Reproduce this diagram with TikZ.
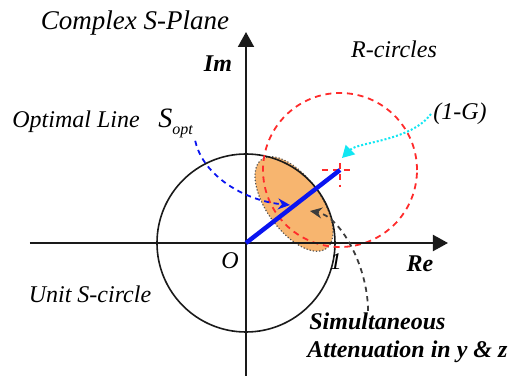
\documentclass[tikz,border=0pt]{standalone}
\usepackage{fontspec}
\setmainfont{LiberationSerif}[Extension=.ttf,UprightFont=*-Regular,ItalicFont=*-Italic,
  BoldFont=*-Bold,BoldItalicFont=*-BoldItalic]
\usepackage{tikz}
\usetikzlibrary{arrows.meta,positioning,calc}
\definecolor{RCirc}{HTML}{FF2B2B}
\definecolor{SBlue}{HTML}{0A14F0}
\definecolor{GCyan}{HTML}{12E6F2}
\definecolor{Lens}{HTML}{F7B56F}
\definecolor{LensEdge}{HTML}{555555}
\definecolor{Ink}{HTML}{1A1A1A}

\begin{document}
\begin{tikzpicture}[x=0.5pt,y=0.5pt,>=Latex]
    \tikzset{
      lbl/.style={font=\fontsize{12}{14}\selectfont\itshape,inner sep=1pt},
      blbl/.style={font=\fontsize{12}{14}\selectfont\bfseries\itshape,inner sep=1pt},
      axis/.style={line width=1pt,draw=Ink,-{Triangle[length=7.5pt,width=8pt]}},
      rdash/.style={draw=RCirc,line width=0.9pt,dash pattern=on 3pt off 2.4pt},
      pointer/.style={line width=0.9pt,dash pattern=on 2.6pt off 2.2pt}
    }
    \useasboundingbox (0,0) rectangle (511,376);
    \coordinate (O) at (246,133);
    \coordinate (G) at (340,206);
    \coordinate (lens) at (294,172);
    \coordinate (reL) at (30,133);
    \coordinate (reR) at (448,133);
    \coordinate (imB) at (246,0);
    \coordinate (imT) at (246,344);
    \coordinate (sHit) at (290,171);
    \coordinate (aHit) at (310,165);
    \coordinate (gHit) at (342,218);

    % lens of simultaneous attenuation
    \fill[Lens,rotate around={126:(lens)}] (lens) ellipse [x radius=55,y radius=27];
    \draw[LensEdge,densely dotted,line width=0.6pt,rotate around={126:(lens)}]
         (lens) ellipse [x radius=55,y radius=27];

    \draw[Ink,line width=0.8pt] (O) circle [radius=89];
    \draw[rdash] (G) circle [radius=77];
    \draw[rdash] ($(G)+(-18,0)$) -- ($(G)+(13,0)$);
    \draw[rdash] ($(G)+(0,7)$) -- ($(G)+(0,-17)$);

    \draw[axis] (reL) -- (reR);
    \draw[axis] (imB) -- (imT);
    \draw[SBlue,line width=2.2pt] (O) -- (G);

    \node[lbl,font=\fontsize{13.5}{16}\selectfont\itshape,anchor=base] (title) at (135,346) {Complex S-Plane};
    \node[blbl,anchor=base] (im) at (218,304) {Im};
    \node[blbl,anchor=base] (re) at (420,104) {Re};
    \node[lbl,anchor=base] (rc) at (394,318) {R-circles};
    \node[lbl,anchor=base] (opt) at (76,249) {Optimal Line};
    \node[lbl,anchor=base west,font=\fontsize{14}{16}\selectfont\itshape] (sopt) at (156,249)
         {S\raisebox{-4pt}{\fontsize{8}{9}\selectfont\itshape opt}};
    \node[lbl] (oneG) at (460,262) {(1-G)};
    \node[lbl] (orig) at (230,115) {O};
    \node[lbl] (one) at (336,114) {1};
    \node[lbl,anchor=base] (unit) at (90,73) {Unit S-circle};
    \node[blbl,anchor=base west] (simA) at (307,46) {Simultaneous};
    \node[blbl,anchor=base west] (simB) at (305,18) {Attenuation in y \& z};

    \draw[pointer,SBlue,-{Stealth[length=6pt,width=5.5pt]}]
         (sopt.south east) .. controls (203,200) and (245,175) .. (sHit);
    \draw[pointer,Ink!85,-{Stealth[length=6pt,width=5.5pt]}]
         ($(simA.north west)+(61,0)$) .. controls (368,110) and (340,160) .. (aHit);
    \draw[GCyan,densely dotted,line width=1pt,-{Triangle[length=6pt,width=6.5pt]}]
         (oneG.west) .. controls (411,235) and (358,234) .. (gHit);
\end{tikzpicture}
\end{document}
